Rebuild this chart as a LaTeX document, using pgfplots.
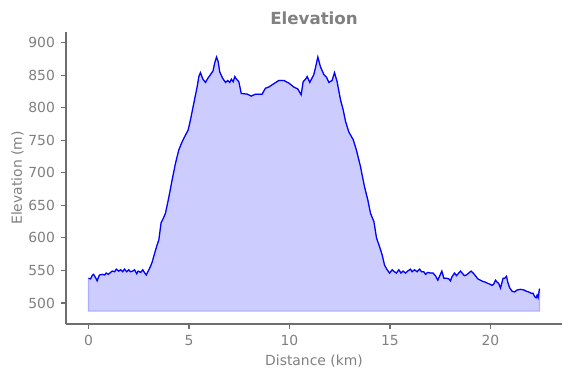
\documentclass[border=0pt]{standalone}
\usepackage{pgfplots}
\pgfplotsset{compat=1.18}
\usepackage{pgfplotstable}
\usepgfplotslibrary{fillbetween}
\usepackage{fontspec}
\setmainfont{DejaVu Sans}
\definecolor{fillc}{RGB}{204,204,255}
\definecolor{edgec}{RGB}{175,175,255}
\definecolor{txt}{RGB}{128,128,128}
\definecolor{spine}{RGB}{110,110,110}
\pgfplotstableread{
x y
0.00 538
0.10 537
0.18 542
0.25 544
0.35 539
0.43 534
0.50 540
0.55 543
0.68 544
0.80 543
0.88 546
0.98 544
1.10 547
1.18 549
1.30 548
1.38 552
1.50 549
1.60 551
1.70 548
1.79 552
1.90 548
2.00 551
2.09 548
2.20 549
2.29 551
2.40 545
2.47 549
2.60 547
2.70 551
2.78 547
2.87 543
2.97 549
3.08 556
3.17 563
3.25 572
3.40 588
3.50 597
3.61 623
3.72 630
3.83 638
4.00 663
4.16 689
4.33 715
4.49 735
4.62 745
4.74 753
4.96 766
5.07 781
5.24 807
5.41 833
5.49 848
5.57 854
5.69 844
5.82 839
5.95 846
6.07 851
6.20 857
6.28 869
6.37 878
6.45 871
6.53 855
6.68 845
6.82 839
6.93 842
7.03 839
7.11 844
7.20 840
7.28 848
7.36 844
7.48 840
7.60 822
7.90 821
8.10 818
8.31 821
8.64 821
8.80 830
8.97 832
9.22 837
9.47 842
9.72 842
9.97 838
10.21 832
10.41 829
10.58 820
10.68 840
10.80 844
10.88 848
11.01 839
11.21 851
11.29 861
11.41 878
11.54 863
11.71 851
11.84 847
11.96 839
12.12 842
12.24 854
12.37 840
12.54 812
12.67 797
12.79 779
12.95 763
13.17 751
13.33 735
13.53 710
13.73 679
13.90 658
14.03 638
14.20 625
14.33 600
14.53 582
14.61 574
14.73 558
14.86 551
14.98 546
15.11 551
15.22 548
15.32 546
15.44 551
15.55 546
15.65 549
15.77 546
15.88 549
16.02 552
16.10 548
16.22 551
16.35 548
16.47 552
16.57 548
16.68 548
16.77 544
16.88 547
17.00 546
17.14 546
17.26 542
17.38 535
17.48 542
17.58 549
17.68 538
17.81 538
17.93 537
18.01 534
18.08 540
18.21 546
18.31 542
18.42 546
18.51 549
18.59 546
18.70 542
18.80 543
18.92 546
19.04 549
19.14 546
19.25 542
19.37 537
19.50 535
19.63 533
19.75 532
19.87 530
19.97 529
20.08 527
20.16 529
20.25 535
20.33 532
20.41 530
20.50 523
20.63 538
20.71 538
20.80 541
20.86 532
20.96 523
21.08 518
21.20 517
21.33 520
21.50 521
21.66 520
21.79 518
21.90 517
22.02 515
22.12 515
22.19 510
22.27 508
22.32 512
22.37 508
22.44 522
}\elev
\begin{document}
\begin{tikzpicture}
\begin{axis}[
  at={(47.52pt,38.88pt)}, anchor=south west,
  scale only axis, width=357.12pt, height=210.24pt,
  xmin=-1.12, xmax=23.56, ymin=467.7, ymax=916.5,
  axis x line*=bottom, axis y line*=left,
  axis line style={spine, line width=0.8pt, -},
  xtick={0,5,10,15,20}, ytick={500,550,...,900},
  tick align=outside, major tick length=3.5pt,
  tick style={spine, line width=0.8pt},
  ticklabel style={font=\fontsize{10}{12}\selectfont, text=txt},
  /pgf/number format/assume math mode=true,
  xticklabel style={yshift=-1pt},
  yticklabel style={xshift=-1pt},
  xlabel={Distance (km)}, ylabel={Elevation (m)},
  label style={font=\fontsize{10}{12}\selectfont, text=txt},
  ylabel style={yshift=-3.6pt},
  title={\textbf{Elevation}},
  title style={font=\fontsize{12}{14}\selectfont, text=txt, yshift=-4.5pt},
  clip=false,
]
\addplot[name path=top, draw=none] table {\elev};
\addplot[name path=base, draw=none] coordinates {(0,487.7) (22.44,487.7)};
\addplot[fill=fillc, draw=edgec, line width=0.8pt] fill between[of=top and base];
\addplot[blue, line width=0.9pt] table {\elev};
\end{axis}
\pgfresetboundingbox
\path[use as bounding box] (0,0) rectangle (411.12pt,272.16pt);
\end{tikzpicture}
\end{document}
